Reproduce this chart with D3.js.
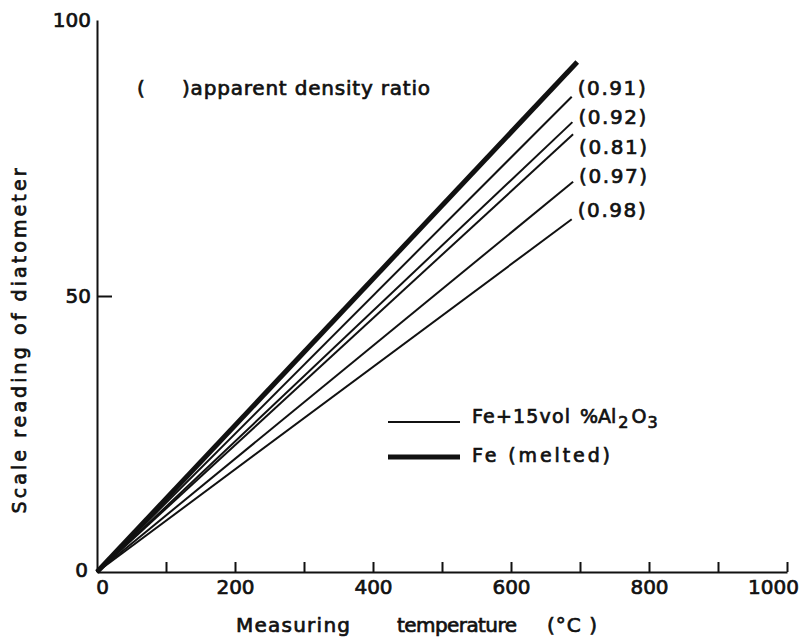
<!DOCTYPE html>
<html>
<head>
<meta charset="utf-8">
<script src="https://cdn.jsdelivr.net/npm/d3@7"></script>
<style>
  body { margin: 0; background: #fff; }
  text { font-family: "DejaVu Sans", sans-serif; fill: #111; stroke: #111; stroke-width: 0.7px; }
</style>
</head>
<body>
<svg id="chart" width="803" height="639"></svg>
<script>
// Temperature axis (°C) and scale reading axis
const temperatureTicks = [0, 100, 200, 300, 400, 500, 600, 700, 800, 900, 1000];
const temperatureLabels = [0, 200, 400, 600, 800, 1000];
const readingTicks = [0, 50, 100];

// Each run: straight from the origin to its last reading
const seriesNames = ["Fe (melted)", "Fe+15vol%Al2O3 (0.91)", "Fe+15vol%Al2O3 (0.92)",
                     "Fe+15vol%Al2O3 (0.81)", "Fe+15vol%Al2O3 (0.97)", "Fe+15vol%Al2O3 (0.98)"];
const seriesKind = ["melted", "composite", "composite", "composite", "composite", "composite"];
const densityRatio = [null, "(0.91)", "(0.92)", "(0.81)", "(0.97)", "(0.98)"];
const startTemperature = [0, 0, 0, 0, 0, 0];
const startReading = [0, 0, 0, 0, 0, 0];
const endTemperature = [696, 688, 689, 690, 690, 688];
const endReading = [92.4, 86.1, 81.5, 79.3, 70.7, 63.9];

const svg = d3.select("#chart");
const x = d3.scaleLinear().domain([0, 1000]).range([97, 787]);
const y = d3.scaleLinear().domain([0, 100]).range([572, 20]);

// x axis: upward ticks every 100, labels every 200
const xAxis = svg.append("g")
  .attr("transform", `translate(0,${y(0)})`)
  .call(d3.axisBottom(x)
    .tickValues(temperatureTicks)
    .tickSizeInner(-10).tickSizeOuter(0).tickPadding(8)
    .tickFormat(d => temperatureLabels.includes(d) ? d : ""));
xAxis.selectAll(".tick").filter(d => d === 0).select("line").remove();
xAxis.selectAll(".tick").filter(d => d === 0).select("text").attr("dx", 5);
xAxis.selectAll(".tick").filter(d => d === 1000).select("text").attr("dx", -14);

// y axis: single inward tick at 50
const yAxis = svg.append("g")
  .attr("transform", `translate(${x(0)},0)`)
  .call(d3.axisLeft(y)
    .tickValues(readingTicks)
    .tickSizeInner(-15).tickSizeOuter(0).tickPadding(6)
    .tickFormat(d3.format("d")));
yAxis.selectAll(".tick").filter(d => d !== 50).select("line").remove();

svg.selectAll(".domain").attr("stroke", "#111").attr("stroke-width", 2);
svg.selectAll(".tick line").attr("stroke", "#111").attr("stroke-width", 2);
svg.selectAll(".tick text")
  .style("font-size", "20px")
  .attr("fill", "#111");
yAxis.selectAll(".tick text").filter(d => d === 0).attr("x", -9).attr("dy", "0.2em");

// Lines
const line = d3.line().x(d => x(d[0])).y(d => y(d[1]));
const series = seriesNames.map((name, i) => ({
  name, kind: seriesKind[i], ratio: densityRatio[i],
  points: [[startTemperature[i], startReading[i]], [endTemperature[i], endReading[i]]]
}));

svg.append("g").selectAll("path")
  .data(series)
  .join("path")
  .attr("d", d => line(d.points))
  .attr("fill", "none")
  .attr("stroke", "#111")
  .attr("stroke-width", d => d.kind === "melted" ? 5 : 2);

// Density ratio labels at the line ends, stacked so they don't collide
let prevBaseline = -Infinity;
series.filter(d => d.ratio).forEach(d => {
  const end = d.points[d.points.length - 1];
  const baseline = Math.max(y(end[1]) - 2, prevBaseline + 29.5);
  prevBaseline = baseline;
  svg.append("text")
    .attr("x", x(end[0]) + 6)
    .attr("y", baseline)
    .style("font-size", "20px")
    .attr("textLength", 68)
    .attr("lengthAdjust", "spacing")
    .text(d.ratio);
});

// Key for the bracketed numbers
svg.append("text").attr("x", 137).attr("y", 95).style("font-size", "20px").text("(");
svg.append("text").attr("x", 182).attr("y", 95).style("font-size", "20px")
  .attr("textLength", 248).attr("lengthAdjust", "spacing")
  .text(")apparent density ratio");

// Legend
const legend = svg.append("g");
const legendItems = [
  { kind: "composite", width: 2, y: 422 },
  { kind: "melted", width: 5, y: 457 }
];
legend.selectAll("line").data(legendItems).join("line")
  .attr("x1", 388).attr("x2", 460)
  .attr("y1", d => d.y).attr("y2", d => d.y)
  .attr("stroke", "#111").attr("stroke-width", d => d.width);

const t1 = legend.append("text").attr("y", 423).style("font-size", "19px");
t1.append("tspan").attr("x", 472).attr("textLength", 98).attr("lengthAdjust", "spacing").text("Fe+15vol");
t1.append("tspan").attr("x", 580).text("%Al");
t1.append("tspan").attr("dy", 5).attr("dx", 2).style("font-size", "16px").text("2");
t1.append("tspan").attr("dy", -5).attr("dx", 3).text("O");
t1.append("tspan").attr("dy", 5).attr("dx", 1).style("font-size", "16px").text("3");
legend.append("text").attr("x", 472).attr("y", 462).style("font-size", "19px")
  .attr("textLength", 138).attr("lengthAdjust", "spacing")
  .text("Fe (melted)");

// Axis titles
const xt = svg.append("text").attr("y", 632).style("font-size", "20px");
xt.append("tspan").attr("x", 236).attr("textLength", 114).attr("lengthAdjust", "spacing").text("Measuring");
xt.append("tspan").attr("x", 397).attr("textLength", 120).attr("lengthAdjust", "spacing").text("temperature");
xt.append("tspan").attr("x", 547).attr("textLength", 50).attr("lengthAdjust", "spacing").text("(°C )");

svg.append("text")
  .attr("transform", "translate(26,341) rotate(-90)")
  .attr("text-anchor", "middle")
  .style("font-size", "19px")
  .attr("textLength", 345)
  .attr("lengthAdjust", "spacing")
  .text("Scale reading of diatometer");
</script>
</body>
</html>
